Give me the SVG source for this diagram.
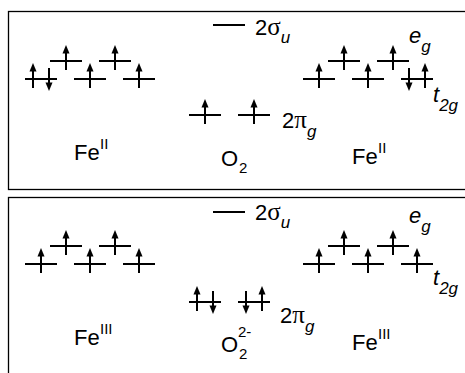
<svg xmlns="http://www.w3.org/2000/svg" xmlns:xlink="http://www.w3.org/1999/xlink" width="465" height="373" viewBox="0 0 465 373">
<style>
.box{fill:none;stroke:#000;stroke-width:1.3}
.lv{stroke:#000;stroke-width:2;fill:none}
.t{font-family:"Liberation Sans",Arial,sans-serif;font-size:22px;fill:#000}
.s{font-family:"Liberation Sans",Arial,sans-serif;font-size:15px;fill:#000}
.gr{font-family:"Liberation Serif","Times New Roman",serif;font-size:25px;fill:#000}
.it{font-family:"Liberation Sans",Arial,sans-serif;font-style:italic;fill:#000}
</style>
<defs>
<g id="up"><line x1="0" y1="9" x2="0" y2="-9" stroke="#000" stroke-width="2"/><polygon points="0,-16 -3.5,-7.5 3.5,-7.5" fill="#000"/></g>
<g id="dn"><line x1="0" y1="-11" x2="0" y2="5" stroke="#000" stroke-width="2"/><polygon points="0,12 -3.5,3.5 3.5,3.5" fill="#000"/></g>
</defs>
<rect class="box" x="8.5" y="11.5" width="470" height="178"/>
<rect class="box" x="8.5" y="197.5" width="470" height="190"/>

<g id="top-fe-left">
<path class="lv" d="M25 79h32M74 79h32M123 79h32M50 61h32M99 61h32"/>
<use xlink:href="#up" x="33" y="79"/><use xlink:href="#dn" x="49" y="79"/>
<use xlink:href="#up" x="90" y="79"/><use xlink:href="#up" x="139" y="79"/>
<use xlink:href="#up" x="66" y="61"/><use xlink:href="#up" x="115" y="61"/>
<text class="t" x="74" y="160">Fe</text><text class="s" x="100" y="149">II</text>
</g>

<g id="top-o2">
<path class="lv" d="M213 25h32M189 115h32M238 115h32"/>
<use xlink:href="#up" x="205" y="115"/><use xlink:href="#up" x="254" y="115"/>
<text class="t" x="221" y="166">O</text><text class="s" x="239" y="173">2</text>
<text class="t" x="255" y="35">2<tspan class="gr">σ</tspan><tspan class="it" font-size="17" dy="8">u</tspan></text>
<text class="t" x="282" y="128">2<tspan class="gr">π</tspan><tspan class="it" font-size="17" dy="9">g</tspan></text>
</g>

<g id="top-fe-right">
<path class="lv" d="M303 79h32M352 79h32M401 79h32M328 61h32M377 61h32"/>
<use xlink:href="#up" x="319" y="79"/><use xlink:href="#up" x="368" y="79"/>
<use xlink:href="#dn" x="409" y="79"/><use xlink:href="#up" x="425" y="79"/>
<use xlink:href="#up" x="344" y="61"/><use xlink:href="#up" x="393" y="61"/>
<text class="t" x="352" y="164">Fe</text><text class="s" x="378" y="153">II</text>
<text class="it" font-size="22" x="409" y="43">e<tspan font-size="17" dy="9">g</tspan></text>
<text class="it" font-size="22" x="433" y="102">t<tspan font-size="17" dy="9">2g</tspan></text>
</g>

<g id="bot-fe-left">
<path class="lv" d="M25 264h32M74 264h32M123 264h32M50 246h32M99 246h32"/>
<use xlink:href="#up" x="41" y="264"/><use xlink:href="#up" x="90" y="264"/><use xlink:href="#up" x="139" y="264"/>
<use xlink:href="#up" x="66" y="246"/><use xlink:href="#up" x="115" y="246"/>
<text class="t" x="74" y="345">Fe</text><text class="s" x="100" y="334">III</text>
</g>

<g id="bot-o2">
<path class="lv" d="M213 212h32M189 302h32M238 302h32"/>
<use xlink:href="#up" x="197" y="302"/><use xlink:href="#dn" x="213" y="302"/>
<use xlink:href="#dn" x="246" y="302"/><use xlink:href="#up" x="262" y="302"/>
<text class="t" x="221" y="352">O</text><text class="s" x="238" y="337">2-</text><text class="s" x="239" y="359">2</text>
<text class="t" x="255" y="220">2<tspan class="gr">σ</tspan><tspan class="it" font-size="17" dy="8">u</tspan></text>
<text class="t" x="280" y="323">2<tspan class="gr">π</tspan><tspan class="it" font-size="17" dy="9">g</tspan></text>
</g>

<g id="bot-fe-right">
<path class="lv" d="M303 264h32M352 264h32M401 264h32M328 246h32M377 246h32"/>
<use xlink:href="#up" x="319" y="264"/><use xlink:href="#up" x="368" y="264"/><use xlink:href="#up" x="417" y="264"/>
<use xlink:href="#up" x="344" y="246"/><use xlink:href="#up" x="393" y="246"/>
<text class="t" x="352" y="350">Fe</text><text class="s" x="378" y="339">III</text>
<text class="it" font-size="22" x="409" y="223">e<tspan font-size="17" dy="9">g</tspan></text>
<text class="it" font-size="22" x="433" y="285">t<tspan font-size="17" dy="9">2g</tspan></text>
</g>
</svg>
